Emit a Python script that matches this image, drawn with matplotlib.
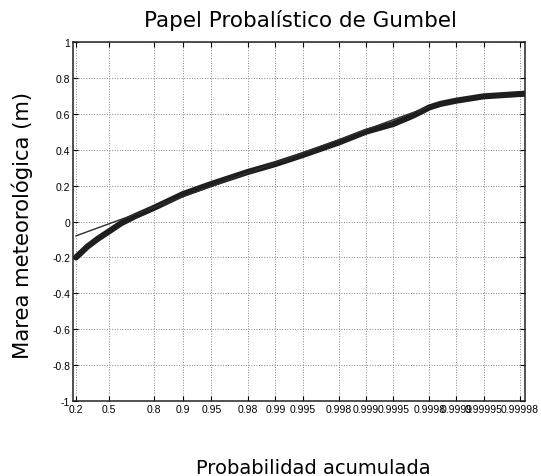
import numpy as np
import matplotlib
matplotlib.use("Agg")
import matplotlib.pyplot as plt
from matplotlib.font_manager import FontProperties

# -- non-exceedance probability of the observed surge and its value (m) --
prob_obs = [0.2, 0.3, 0.4, 0.5, 0.6, 0.7, 0.8, 0.9, 0.95, 0.98, 0.99, 0.995,
            0.998, 0.999, 0.9995, 0.9997, 0.99975, 0.9998, 0.99985, 0.9999,
            0.99995, 0.99998, 0.999983]
surge_obs = [-0.20, -0.14, -0.095, -0.055, -0.01, 0.03, 0.075, 0.153, 0.209,
             0.276, 0.32, 0.37, 0.44, 0.50, 0.543, 0.59, 0.61, 0.635, 0.655,
             0.673, 0.697, 0.71, 0.712]

# -- fitted Gumbel straight line --
prob_fit = [0.2, 0.9998]
surge_fit = [-0.08, 0.64]

# -- probability paper ticks --
prob_ticks = [0.2, 0.5, 0.8, 0.9, 0.95, 0.98, 0.99, 0.995, 0.998, 0.999,
              0.9995, 0.9998, 0.9999, 0.99995, 0.99998]
tick_labels = ["0.2", "0.5", "0.8", "0.9", "0.95", "0.98", "0.99", "0.995",
               "0.998", "0.999", "0.9995", "0.9998", "0.9999", "0.99995",
               "0.99998"]
y_ticks = [-1, -0.8, -0.6, -0.4, -0.2, 0, 0.2, 0.4, 0.6, 0.8, 1]
y_labels = ["-1", "-0.8", "-0.6", "-0.4", "-0.2", "0", "0.2", "0.4", "0.6",
            "0.8", "1"]


def gumbel(p):
    """Reduced Gumbel variate."""
    return -np.log(-np.log(np.asarray(p, dtype=float)))


fig = plt.figure(figsize=(5.41, 4.77), dpi=100)
ax = fig.add_axes([0.135, 0.157, 0.835, 0.753])

ax.plot(gumbel(prob_obs), surge_obs, color="#1e1e1e", lw=4.4,
        solid_capstyle="round", solid_joinstyle="round", zorder=3)
ax.plot(gumbel(prob_fit), surge_fit, color="#2e2e2e", lw=1.0, zorder=4)

ax.set_xlim(-0.55, 10.95)
ax.set_ylim(-1, 1)
ax.set_xticks(gumbel(prob_ticks))
ax.set_xticklabels(tick_labels)
ax.set_yticks(y_ticks)
ax.set_yticklabels(y_labels)

tick_font = FontProperties(family="Liberation Sans", size=7.5)
for lbl in ax.get_xticklabels() + ax.get_yticklabels():
    lbl.set_fontproperties(tick_font)
    lbl.set_color("#111111")

ax.tick_params(direction="in", length=3.5, width=0.8, top=True, right=True,
               pad=2, colors="black")
ax.grid(True, linestyle=":", color="#888888", lw=0.7)
for s in ax.spines.values():
    s.set_linewidth(1.1)
    s.set_color("#222222")

fig.text(0.555, 0.957, "Papel Probalístico de Gumbel", ha="center",
         va="center", fontsize=15.5, family="DejaVu Sans")
fig.text(0.58, 0.006, "Probabilidad acumulada", ha="center", va="baseline",
         fontsize=14, family="DejaVu Sans")
fig.text(0.041, 0.528, "Marea meteorológica (m)", ha="center", va="center",
         rotation=90, fontsize=15.2, family="DejaVu Sans")

fig.savefig("out.png", dpi=100)
